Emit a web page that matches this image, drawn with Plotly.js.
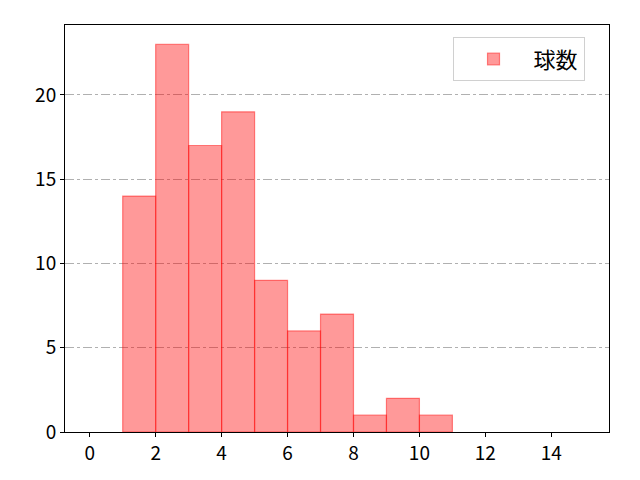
<!DOCTYPE html>
<html>
<head>
<meta charset="utf-8">
<script src="https://cdn.plot.ly/plotly-3.0.1.min.js"></script>
<style>body{margin:0;background:#fff;}</style>
</head>
<body>
<div id="graph01" style="width:640px;height:480px;"></div>
<script>
// histogram bins (left edges, width 1) and counts
var bin_starts = [1, 2, 3, 4, 5, 6, 7, 8, 9, 10];
var counts = [14, 23, 17, 19, 9, 6, 7, 1, 2, 1];
var x_ticks = [0, 2, 4, 6, 8, 10, 12, 14];
var y_ticks = [0, 5, 10, 15, 20];

var centers = bin_starts.map(function (s) { return s + 0.5; });

var trace = {
  x: centers,
  y: counts,
  type: 'bar',
  width: 1,
  name: '球数',
  marker: {
    color: 'rgba(255,0,0,0.4)',
    line: {color: 'rgba(255,0,0,0.45)', width: 1.2}
  }
};

var layout = {
  width: 640,
  height: 480,
  margin: {l: 65, r: 31, t: 25, b: 48},
  paper_bgcolor: '#fff',
  plot_bgcolor: '#fff',
  font: {family: '"Noto Sans CJK JP", "DejaVu Sans", sans-serif', size: 19, color: '#000'},
  showlegend: true,
  legend: {
    x: 0.955, y: 0.97, xanchor: 'right', yanchor: 'top',
    bordercolor: '#d0d0d0', borderwidth: 1, bgcolor: 'rgba(255,255,255,0.8)',
    font: {size: 22}, itemwidth: 70
  },
  xaxis: {
    range: [-0.75, 15.75],
    tickvals: x_ticks,
    showgrid: false,
    zeroline: false,
    showline: true, mirror: true, linecolor: '#000', linewidth: 1,
    ticks: 'outside', ticklen: 4, tickcolor: '#000'
  },
  yaxis: {
    range: [0, 24.15],
    tickvals: y_ticks,
    showgrid: true, gridcolor: '#b0b0b0', griddash: 'dashdot', gridwidth: 1,
    zeroline: false,
    showline: true, mirror: true, linecolor: '#000', linewidth: 1,
    ticks: 'outside', ticklen: 4, tickcolor: '#000'
  }
};

Plotly.newPlot('graph01', [trace], layout, {displayModeBar: false});
</script>
</body>
</html>
